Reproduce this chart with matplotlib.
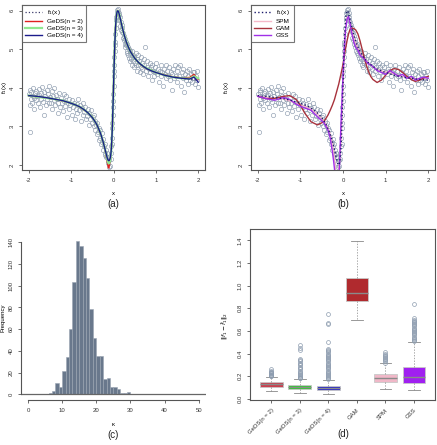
import numpy as np
import matplotlib
matplotlib.use("Agg")
import matplotlib.pyplot as plt

plt.rcParams['font.family'] = ['Liberation Sans', 'DejaVu Sans']
plt.rcParams['axes.unicode_minus'] = False

# simulated sample (same in (a) and (b))
x_obs = [-1.99, -1.98, -1.97, -1.96, -1.95, -1.94, -1.92, -1.91, -1.9, -1.88, -1.87, -1.85, -1.83, -1.82, -1.8, -1.79,
         -1.77, -1.76, -1.74, -1.72, -1.7, -1.69, -1.67, -1.65, -1.64, -1.62, -1.6, -1.58, -1.57, -1.55, -1.53, -1.52,
         -1.5, -1.48, -1.46, -1.45, -1.43, -1.41, -1.4, -1.38, -1.36, -1.34, -1.32, -1.3, -1.28, -1.26, -1.24, -1.22,
         -1.2, -1.18, -1.16, -1.14, -1.12, -1.1, -1.08, -1.06, -1.04, -1.02, -0.99, -0.97, -0.95, -0.93, -0.91, -0.89,
         -0.87, -0.85, -0.83, -0.81, -0.79, -0.77, -0.75, -0.73, -0.71, -0.69, -0.67, -0.65, -0.63, -0.61, -0.59, -0.57,
         -0.55, -0.53, -0.51, -0.49, -0.47, -0.46, -0.44, -0.43, -0.41, -0.4, -0.38, -0.37, -0.35, -0.34, -0.32, -0.31,
         -0.29, -0.28, -0.27, -0.25, -0.24, -0.23, -0.21, -0.2, -0.19, -0.18, -0.17, -0.16, -0.15, -0.14, -0.13, -0.12,
         -0.11, -0.1, -0.09, -0.07, -0.06, -0.05, -0.04, -0.035, -0.03, -0.025, -0.02, -0.015, -0.01, -0.005, 0.0, 0.005,
         0.01, 0.015, 0.02, 0.025, 0.03, 0.035, 0.04, 0.05, 0.06, 0.07, 0.08, 0.09, 0.1, 0.11, 0.12, 0.13, 0.14, 0.15,
         0.16, 0.17, 0.18, 0.19, 0.2, 0.21, 0.22, 0.23, 0.24, 0.25, 0.26, 0.27, 0.28, 0.29, 0.3, 0.31, 0.32, 0.33, 0.34,
         0.35, 0.36, 0.37, 0.38, 0.39, 0.4, 0.42, 0.43, 0.44, 0.45, 0.47, 0.48, 0.49, 0.5, 0.52, 0.53, 0.55, 0.56, 0.58,
         0.59, 0.61, 0.62, 0.64, 0.65, 0.67, 0.68, 0.7, 0.72, 0.73, 0.75, 0.76, 0.78, 0.8, 0.81, 0.83, 0.85, 0.86, 0.88,
         0.9, 0.91, 0.93, 0.95, 0.97, 0.99, 1.01, 1.03, 1.05, 1.07, 1.09, 1.11, 1.13, 1.15, 1.17, 1.19, 1.21, 1.23, 1.25,
         1.27, 1.29, 1.31, 1.33, 1.35, 1.37, 1.39, 1.41, 1.43, 1.45, 1.47, 1.49, 1.51, 1.53, 1.55, 1.57, 1.59, 1.61,
         1.63, 1.65, 1.67, 1.69, 1.71, 1.73, 1.75, 1.77, 1.79, 1.81, 1.83, 1.85, 1.87, 1.89, 1.91, 1.93, 1.95, 1.97,
         1.98, 2.0]
y_obs = [3.85, 3.55, 2.85, 3.95, 3.7, 3.9, 3.62, 3.8, 4.0, 3.75, 3.45, 3.88, 3.68, 3.92, 3.78, 3.6,
         3.98, 3.82, 3.5, 3.86, 3.72, 4.02, 3.64, 3.9, 3.3, 3.78, 3.55, 3.95, 3.7, 3.84, 3.62, 4.05,
         3.76, 3.6, 3.92, 3.45, 3.8, 3.68, 4.0, 3.55, 3.82, 3.7, 3.35, 3.62, 3.88, 3.5, 3.75, 3.6,
         3.4, 3.85, 3.66, 3.52, 3.78, 3.25, 3.62, 3.45, 3.7, 3.55, 3.3, 3.68, 3.5, 3.6, 3.2, 3.45,
         3.58, 3.35, 3.72, 3.42, 3.55, 3.15, 3.48, 3.3, 3.62, 3.38, 3.5, 3.2, 3.28, 3.45, 3.05, 3.35,
         3.2, 3.42, 3.1, 3.25, 3.0, 3.3, 2.9, 3.15, 3.05, 2.8, 3.1, 2.85, 2.95, 2.65, 2.9, 2.7,
         2.55, 2.82, 2.6, 2.4, 2.68, 2.5, 2.3, 2.55, 2.25, 2.4, 2.2, 2.32, 2.2, 2.05, 2.2, 2.1,
         1.95, 2.12, 1.98, 2.15, 2.3, 2.5, 2.7, 2.55, 2.95, 3.1, 3.3, 3.5, 3.65, 3.85, 4.05, 4.3,
         4.45, 4.6, 4.8, 4.95, 5.1, 5.2, 5.4, 5.55, 5.75, 5.85, 5.95, 6.02, 5.98, 6.05, 5.9, 5.95, 5.75, 5.85,
         5.6, 5.72, 5.5, 5.62, 5.45, 5.55, 5.3, 5.42, 5.25, 5.35, 5.15, 5.28, 5.05, 5.2, 5.1, 4.95, 5.15, 4.9, 5.05,
         4.85, 5.0, 4.78, 4.95, 4.7, 4.9, 4.75, 4.95, 4.6, 4.85, 4.7, 4.55, 4.8, 4.65, 4.9, 4.6, 4.75, 4.45, 4.85,
         4.6, 4.7, 4.4, 4.55, 4.8, 4.5, 4.65, 4.35, 4.6, 4.75, 5.05, 4.45, 4.55, 4.7, 4.3, 4.5, 4.65, 4.4, 4.55,
         4.2, 4.6, 4.45, 4.3, 4.55, 4.4, 4.65, 4.35, 4.5, 4.15, 4.45, 4.6, 4.3, 4.4, 4.05, 4.5, 4.35, 4.6, 4.25,
         4.45, 4.3, 4.55, 4.2, 4.4, 3.95, 4.35, 4.5, 4.25, 4.6, 4.3, 4.45, 4.15, 4.55, 4.3, 4.6, 4.05, 4.4,
         4.25, 4.5, 3.9, 4.35, 4.2, 4.45, 4.1, 4.3, 4.5, 4.2, 4.35, 4.15, 4.42, 4.25, 4.4, 4.1, 4.3, 4.45,
         4.2, 4.02]

# fitted curves
curve_x = [-2.0, -1.8, -1.6, -1.4, -1.2, -1.0, -0.9, -0.8, -0.7, -0.6, -0.5, -0.45, -0.4, -0.35, -0.3, -0.25, -0.2,
           -0.17, -0.15, -0.13, -0.12, -0.11, -0.1, -0.09, -0.08, -0.07, -0.06, -0.05, -0.04, -0.03, -0.02, -0.01,
           0.0, 0.01, 0.02, 0.03, 0.04, 0.05, 0.06, 0.07, 0.08, 0.09, 0.1, 0.11, 0.12, 0.14, 0.16, 0.18, 0.2, 0.25,
           0.3, 0.35, 0.4, 0.5, 0.6, 0.7, 0.8, 0.9, 1.0, 1.2, 1.4, 1.6, 1.8, 1.9, 2.0]
f1_true = [3.80, 3.78, 3.75, 3.72, 3.67, 3.60, 3.56, 3.51, 3.44, 3.35, 3.23, 3.15, 3.06, 2.94, 2.80, 2.62, 2.40,
           2.25, 2.15, 2.07, 2.03, 2.01, 2.00, 2.01, 2.05, 2.12, 2.24, 2.40, 2.62, 2.90, 3.23, 3.60,
           4.00, 4.40, 4.77, 5.10, 5.38, 5.60, 5.76, 5.88, 5.95, 5.99, 6.00, 5.99, 5.97, 5.89, 5.80, 5.70, 5.60, 5.38,
           5.20, 5.06, 4.94, 4.77, 4.65, 4.56, 4.49, 4.44, 4.40, 4.33, 4.28, 4.25, 4.22, 4.21, 4.20]
geds2 = [3.79, 3.77, 3.74, 3.71, 3.66, 3.60, 3.56, 3.50, 3.43, 3.35, 3.25, 3.15, 3.05, 2.93, 2.79, 2.62, 2.40,
         2.22, 2.10, 1.98, 1.93, 1.92, 1.98, 2.05, 2.10, 2.18, 2.28, 2.42, 2.63, 2.90, 3.22, 3.58,
         3.98, 4.38, 4.76, 5.10, 5.38, 5.60, 5.76, 5.88, 5.95, 5.99, 6.01, 5.99, 5.96, 5.88, 5.79, 5.69, 5.59, 5.39,
         5.20, 5.07, 4.95, 4.78, 4.64, 4.55, 4.49, 4.45, 4.40, 4.34, 4.29, 4.26, 4.27, 4.35, 4.22]
geds3 = [3.80, 3.77, 3.74, 3.71, 3.67, 3.60, 3.56, 3.51, 3.44, 3.35, 3.24, 3.15, 3.06, 2.94, 2.80, 2.62, 2.41,
         2.27, 2.16, 2.08, 2.05, 2.04, 2.05, 2.08, 2.12, 2.18, 2.28, 2.42, 2.63, 2.90, 3.22, 3.58,
         3.98, 4.38, 4.76, 5.10, 5.38, 5.60, 5.76, 5.88, 5.95, 5.99, 6.00, 5.99, 5.97, 5.89, 5.80, 5.70, 5.60, 5.38,
         5.21, 5.06, 4.94, 4.77, 4.65, 4.56, 4.50, 4.45, 4.40, 4.33, 4.28, 4.25, 4.24, 4.30, 4.25]
geds4 = [3.80, 3.78, 3.75, 3.71, 3.67, 3.60, 3.56, 3.51, 3.44, 3.35, 3.23, 3.15, 3.06, 2.94, 2.80, 2.62, 2.41,
         2.28, 2.19, 2.13, 2.12, 2.11, 2.12, 2.14, 2.17, 2.22, 2.31, 2.44, 2.64, 2.91, 3.23, 3.60,
         4.00, 4.40, 4.77, 5.10, 5.38, 5.60, 5.76, 5.88, 5.95, 5.99, 6.00, 5.99, 5.97, 5.89, 5.80, 5.70, 5.60, 5.38,
         5.20, 5.06, 4.94, 4.77, 4.65, 4.56, 4.49, 4.44, 4.40, 4.33, 4.28, 4.25, 4.23, 4.28, 4.15]

fit_x = [-2.0, -1.8, -1.6, -1.4, -1.25, -1.1, -1.0, -0.9, -0.75, -0.6, -0.45, -0.35, -0.3, -0.25, -0.22, -0.2,
         -0.17, -0.13, -0.1, -0.08, -0.05, -0.02, 0.0, 0.03, 0.06, 0.1, 0.13, 0.16, 0.2, 0.25, 0.28, 0.3, 0.35, 0.4,
         0.45, 0.5, 0.55, 0.6, 0.65, 0.7, 0.8, 0.9, 0.95, 1.0, 1.1, 1.2, 1.3, 1.35, 1.4, 1.5, 1.6, 1.65, 1.7, 1.8,
         1.9, 2.0]
spm = [3.79, 3.75, 3.72, 3.72, 3.66, 3.60, 3.56, 3.52, 3.45, 3.32, 3.15, 2.95, 2.80, 2.55, 2.35, 2.15,
       1.85, 1.70, 1.85, 2.10, 2.60, 3.40, 4.00, 4.95, 5.55, 5.85, 5.82, 5.70, 5.52, 5.32, 5.22, 5.16, 5.05, 4.92,
       4.85, 4.77, 4.70, 4.64, 4.60, 4.55, 4.48, 4.44, 4.42, 4.41, 4.40, 4.36, 4.32, 4.31, 4.30, 4.27, 4.26, 4.25,
       4.24, 4.23, 4.24, 4.25]
gam = [3.78, 3.72, 3.73, 3.78, 3.80, 3.70, 3.55, 3.35, 3.12, 3.04, 3.12, 3.30, 3.42, 3.55, 3.64, 3.70,
       3.82, 3.98, 4.10, 4.20, 4.35, 4.50, 4.62, 4.82, 5.02, 5.25, 5.40, 5.50, 5.55, 5.54, 5.52, 5.50, 5.40, 5.22,
       5.00, 4.78, 4.58, 4.42, 4.30, 4.22, 4.14, 4.20, 4.26, 4.33, 4.45, 4.50, 4.48, 4.44, 4.40, 4.30, 4.22, 4.19,
       4.17, 4.20, 4.26, 4.30]
gss = [3.78, 3.72, 3.68, 3.75, 3.70, 3.58, 3.52, 3.48, 3.42, 3.25, 3.10, 2.90, 2.70, 2.35, 2.10, 1.90,
       1.55, 1.40, 1.65, 2.05, 3.00, 3.80, 4.30, 5.00, 5.50, 5.80, 5.85, 5.70, 5.45, 5.20, 5.10, 5.05, 4.98, 4.85,
       4.80, 4.75, 4.68, 4.62, 4.60, 4.55, 4.45, 4.40, 4.38, 4.35, 4.45, 4.38, 4.30, 4.33, 4.35, 4.25, 4.30, 4.26,
       4.20, 4.25, 4.28, 4.25]

# (c) histogram of number of knots
kappa_left = [6, 7, 8, 9, 10, 11, 12, 13, 14, 15, 16, 17, 18, 19, 20, 21, 22, 23, 24, 25, 26, 27, 28, 29]
kappa_count = [1, 3, 10, 7, 21, 34, 60, 103, 141, 136, 125, 107, 78, 52, 35, 35, 14, 15, 7, 7, 5, 1, 1, 2]

# (d) L2 errors
methods = ['GeDS(n = 2)', 'GeDS(n = 3)', 'GeDS(n = 4)', 'GAM', 'SPM', 'GSS']
box_colors = ['#c9404f', '#35c835', '#2b2bc8', '#b02a2e', '#f0b8c8', '#a020f0']
q1 = [0.109, 0.085, 0.080, 0.86, 0.147, 0.141]
med = [0.130, 0.101, 0.100, 0.935, 0.180, 0.190]
q3 = [0.147, 0.124, 0.118, 1.07, 0.218, 0.285]
whislo = [0.070, 0.050, 0.040, 0.695, 0.088, 0.076]
whishi = [0.197, 0.176, 0.168, 1.39, 0.315, 0.500]
fliers = [
    [0.200, 0.205, 0.210, 0.215, 0.220, 0.225, 0.230, 0.235, 0.240, 0.250, 0.265],
    [0.180, 0.185, 0.190, 0.200, 0.210, 0.220, 0.230, 0.240, 0.250, 0.260, 0.270, 0.280, 0.300, 0.310, 0.320,
     0.330, 0.340, 0.350, 0.430, 0.450, 0.480],
    [0.175, 0.180, 0.190, 0.200, 0.210, 0.220, 0.230, 0.240, 0.250, 0.260, 0.270, 0.280, 0.290, 0.300, 0.310,
     0.320, 0.330, 0.340, 0.350, 0.360, 0.370, 0.380, 0.390, 0.400, 0.410, 0.420, 0.430, 0.440, 0.500, 0.660,
     0.670, 0.750],
    [],
    [0.320, 0.330, 0.340, 0.350, 0.360, 0.370, 0.380, 0.390, 0.400, 0.410],
    [0.510, 0.520, 0.530, 0.540, 0.550, 0.560, 0.570, 0.580, 0.590, 0.600, 0.610, 0.620, 0.630, 0.640, 0.650,
     0.660, 0.670, 0.680, 0.690, 0.700, 0.710, 0.840],
]

W, H = 437, 445
fig = plt.figure(figsize=(W / 100, H / 100), dpi=100)


def px_axes(l, t, r, b):
    return fig.add_axes([l / W, 1 - b / H, (r - l) / W, (b - t) / H])


spine_col = '#555555'
pt_col = '#8e9db0'
fs = 4.3


def style(ax):
    for s in ax.spines.values():
        s.set_color(spine_col)
        s.set_linewidth(0.8)
    ax.tick_params(colors=spine_col, labelcolor='#333333', length=2.5, width=0.6, labelsize=fs, pad=3)
    for lab in ax.get_yticklabels():
        lab.set_rotation(90)
        lab.set_va('center')


# ---- (a) and (b)
ax_a = px_axes(22, 5, 205, 170)
ax_b = px_axes(251, 5, 435, 170)
for ax in (ax_a, ax_b):
    ax.plot(x_obs, y_obs, 'o', mfc='none', mec=pt_col, mew=0.45, ms=3.1, zorder=1)
    ax.set_xlim(-2.16, 2.16)
    ax.set_ylim(1.87, 6.15)
    ax.set_xticks([-2, -1, 0, 1, 2])
    ax.set_yticks([2, 3, 4, 5, 6])
    style(ax)
    ax.set_xlabel('x', fontsize=fs)
    ax.xaxis.set_label_coords(0.5, -0.125)
    ax.set_ylabel('f$_1$(x)', fontsize=fs)
ax_a.yaxis.set_label_coords(-0.072, 0.5)
ax_b.yaxis.set_label_coords(-0.11, 0.5)

ax_a.plot(curve_x, f1_true, ':', color='#3a3a6a', lw=0.9, label='f$_1$(x)', zorder=2)
ax_a.plot(curve_x, geds2, color='#e02020', lw=1.0, label='GeDS(n = 2)', zorder=3)
ax_a.plot(curve_x, geds3, color='#90e890', lw=1.6, label='GeDS(n = 3)', zorder=3)
ax_a.plot(curve_x, geds4, color='#1c1c8c', lw=1.0, label='GeDS(n = 4)', zorder=4)

ax_b.plot(curve_x, f1_true, ':', color='#1c1c6c', lw=1.0, label='f$_1$(x)', zorder=5)
ax_b.plot(fit_x, spm, color='#f4b8c8', lw=1.0, label='SPM', zorder=3)
ax_b.plot(fit_x, gam, color='#a8323c', lw=1.0, label='GAM', zorder=3)
ax_b.plot(fit_x, gss, color='#a030e8', lw=1.0, label='GSS', zorder=4)

for ax in (ax_a, ax_b):
    leg = ax.legend(loc='upper left', fontsize=fs + 0.3, frameon=True, fancybox=False, borderaxespad=0,
                    handlelength=2.6, handletextpad=0.8, labelspacing=0.25, borderpad=0.5)
    leg.get_frame().set_edgecolor(spine_col)
    leg.get_frame().set_linewidth(0.8)

# ---- (c)
ax_c = px_axes(21.2, 235.9, 205.5, 400.4)
ax_c.bar(kappa_left, kappa_count, width=1, align='edge', color='#69788c', edgecolor='#9aa4b2', linewidth=0.4)
ax_c.axhline(0, color='#666666', lw=0.9)
ax_c.set_xlim(-2, 52)
ax_c.set_ylim(-5.6, 145.6)
ax_c.set_xticks([0, 10, 20, 30, 40, 50])
ax_c.set_yticks([0, 20, 40, 60, 80, 100, 120, 140])
style(ax_c)
ax_c.spines['top'].set_visible(False)
ax_c.spines['right'].set_visible(False)
ax_c.spines['left'].set_bounds(0, 140)
ax_c.spines['bottom'].set_bounds(0, 50)
ax_c.set_xlabel('κ', fontsize=fs)
ax_c.xaxis.set_label_coords(0.5, -0.13)
ax_c.set_ylabel('Frequency', fontsize=fs)
ax_c.yaxis.set_label_coords(-0.085, 0.5)

# ---- (d)
ax_d = px_axes(250.3, 229, 435, 400)
stats = []
for i in range(len(methods)):
    stats.append(dict(med=med[i], q1=q1[i], q3=q3[i], whislo=whislo[i], whishi=whishi[i], fliers=fliers[i]))
bp = ax_d.bxp(stats, positions=range(1, 7), widths=0.8, patch_artist=True, capwidths=0.4,
              boxprops=dict(edgecolor='#c8c8c8', linewidth=0.6),
              medianprops=dict(color='#8a8a8a', linewidth=1.0),
              whiskerprops=dict(color='#888888', linewidth=0.5, linestyle=(0, (2, 2))),
              capprops=dict(color='#888888', linewidth=0.6),
              flierprops=dict(marker='o', mfc='none', mec=pt_col, mew=0.5, ms=2.8))
for patch, c in zip(bp['boxes'], box_colors):
    patch.set_facecolor(c)
ax_d.set_xlim(0.26, 6.74)
ax_d.set_ylim(-0.01, 1.5)
ax_d.set_yticks([0.0, 0.2, 0.4, 0.6, 0.8, 1.0, 1.2, 1.4])
ax_d.set_yticklabels(['0.0', '0.2', '0.4', '0.6', '0.8', '1.0', '1.2', '1.4'])
ax_d.set_xticks(range(1, 7))
ax_d.set_xticklabels(methods)
style(ax_d)
for lab in ax_d.get_xticklabels():
    lab.set_rotation(45)
    lab.set_ha('right')
    lab.set_rotation_mode('anchor')
ax_d.set_ylabel(r'$\|f_1 - \hat{f}_1\|_2$', fontsize=fs)
ax_d.yaxis.set_label_coords(-0.11, 0.43)

# panel captions
for lab, xp, yp in [('(a)', 113, 204), ('(b)', 343, 204), ('(c)', 113, 435), ('(d)', 343, 434)]:
    fig.text(xp / W, 1 - yp / H, lab, fontsize=7, ha='center', va='center', color='#222222')

fig.savefig('out.png', dpi=100)
